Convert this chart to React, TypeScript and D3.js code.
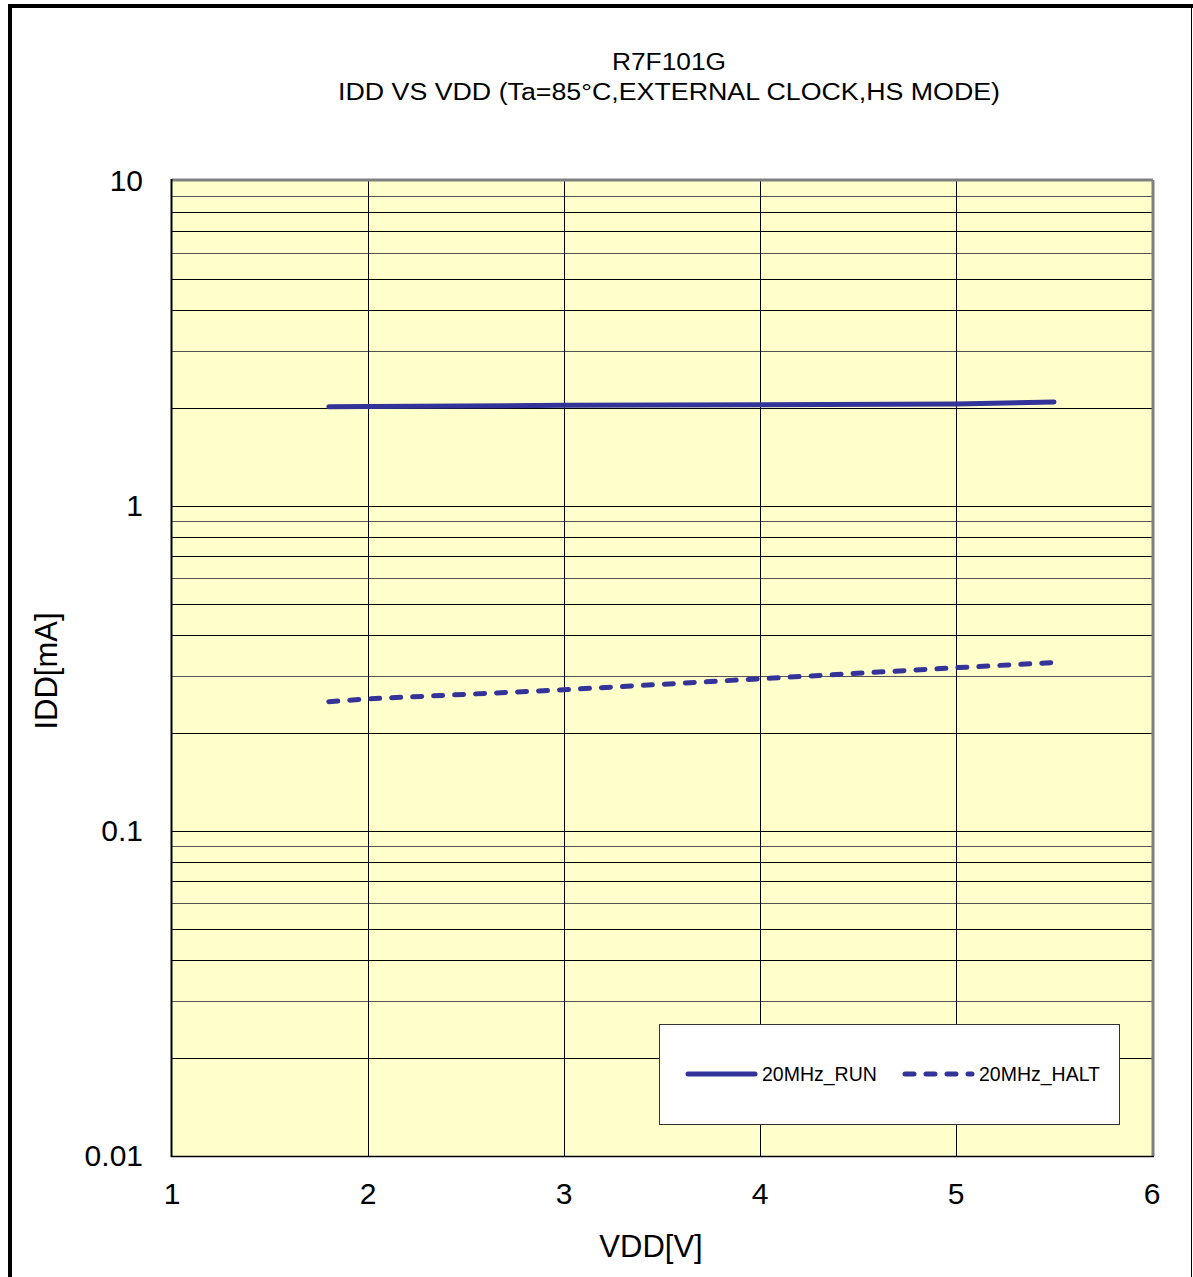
import React from "react";
import * as d3 from "d3";

const vdd = [1.8, 2.0, 3.0, 4.0, 5.0, 5.5];
const run20 = [2.02, 2.025, 2.04, 2.05, 2.06, 2.09];
const halt20 = [0.25, 0.255, 0.272, 0.294, 0.318, 0.33];
const xTicks = [1, 2, 3, 4, 5, 6];
const yTicks = [0.01, 0.1, 1, 10];
const yTickLabels = ["0.01", "0.1", "1", "10"];
const seriesNames = ["20MHz_RUN", "20MHz_HALT"];
const titleLines = ["R7F101G", "IDD VS VDD (Ta=85°C,EXTERNAL CLOCK,HS MODE)"];

const W = 1193;
const H = 1277;
const FONT = "'Liberation Sans', Arial, sans-serif";
const LINE_COLOR = "#333399";

export default function App() {
  const x = d3.scaleLinear().domain([1, 6]).range([172, 1152]);
  const y = d3.scaleLog().domain([0.01, 10]).range([1156, 181]);

  const minor: number[] = [];
  [0.01, 0.1, 1].forEach((d) => {
    for (let k = 1; k <= 9; k++) minor.push(d * k);
  });

  const line = d3
    .line<number>()
    .x((_, i) => x(vdd[i]))
    .y((v) => y(v));

  const [x0, x1] = x.range();
  const [yb, yt] = y.range();

  return (
    <div style={{ position: "absolute", left: 0, top: 0 }}>
      <svg width={W} height={H} style={{ display: "block", fontFamily: FONT }}>
        <rect x={0} y={0} width={W} height={H} fill="#fff" />
        {/* outer frame */}
        <line x1={8} x2={1193} y1={6} y2={6} stroke="#000" strokeWidth={4} />
        <line x1={10} x2={10} y1={4} y2={H} stroke="#000" strokeWidth={4} />
        <line x1={1191.5} x2={1191.5} y1={6} y2={H} stroke="#000" strokeWidth={1} />

        {/* titles */}
        <text x={669} y={70} textAnchor="middle" fontSize={23} textLength={114} lengthAdjust="spacingAndGlyphs">
          {titleLines[0]}
        </text>
        <text x={669} y={100} textAnchor="middle" fontSize={23} textLength={662} lengthAdjust="spacingAndGlyphs">
          {titleLines[1]}
        </text>

        {/* plot background */}
        <rect x={x0} y={yt} width={x1 - x0} height={yb - yt} fill="#FFFFCC" />

        {/* horizontal grid */}
        {minor.map((v, i) => (
          <line
            key={"h" + i}
            x1={x0}
            x2={x1}
            y1={Math.round(y(v)) + 0.5}
            y2={Math.round(y(v)) + 0.5}
            stroke={i % 3 === 2 ? "#555" : "#000"}
            strokeWidth={1}
          />
        ))}
        {/* vertical grid */}
        {xTicks.slice(1, -1).map((t) => (
          <line
            key={"v" + t}
            x1={Math.round(x(t)) + 0.5}
            x2={Math.round(x(t)) + 0.5}
            y1={yt}
            y2={yb}
            stroke="#000"
            strokeWidth={1}
          />
        ))}

        {/* plot border */}
        <line x1={x0} x2={x1 + 1} y1={yt - 1} y2={yt - 1} stroke="#808080" strokeWidth={3} />
        <line x1={x1 + 1} x2={x1 + 1} y1={yt - 1} y2={yb} stroke="#808080" strokeWidth={3} />
        <line x1={x0 - 1} x2={x1 + 2} y1={yb + 0.5} y2={yb + 0.5} stroke="#000" strokeWidth={1.5} />
        <line x1={x0 - 0.5} x2={x0 - 0.5} y1={yt - 2} y2={yb + 1} stroke="#000" strokeWidth={2} />

        {/* series */}
        <path d={line(run20) || ""} fill="none" stroke={LINE_COLOR} strokeWidth={5} strokeLinecap="round" />
        <path
          d={line(halt20) || ""}
          fill="none"
          stroke={LINE_COLOR}
          strokeWidth={5}
          strokeLinecap="round"
          strokeDasharray="9 12"
        />

        {/* legend */}
        <rect x={659.5} y={1024.5} width={460} height={100} fill="#fff" stroke="#333" strokeWidth={1} />
        <line x1={688} x2={755} y1={1074} y2={1074} stroke={LINE_COLOR} strokeWidth={5} strokeLinecap="round" />
        <text x={762} y={1081} fontSize={19.5}>
          {seriesNames[0]}
        </text>
        <line
          x1={905}
          x2={972}
          y1={1074}
          y2={1074}
          stroke={LINE_COLOR}
          strokeWidth={5}
          strokeLinecap="round"
          strokeDasharray="9 12"
        />
        <text x={979} y={1081} fontSize={19.5}>
          {seriesNames[1]}
        </text>

        {/* y tick labels */}
        {yTicks.map((t, i) => (
          <text key={"yt" + t} x={143} y={y(t) + 10} textAnchor="end" fontSize={30}>
            {yTickLabels[i]}
          </text>
        ))}
        {/* x tick labels */}
        {xTicks.map((t) => (
          <text key={"xt" + t} x={x(t)} y={1204} textAnchor="middle" fontSize={30}>
            {t}
          </text>
        ))}

        {/* axis titles */}
        <text x={651} y={1257} textAnchor="middle" fontSize={31}>
          VDD[V]
        </text>
        <text transform="translate(57,671) rotate(-90)" textAnchor="middle" fontSize={31}>
          IDD[mA]
        </text>
      </svg>
    </div>
  );
}
